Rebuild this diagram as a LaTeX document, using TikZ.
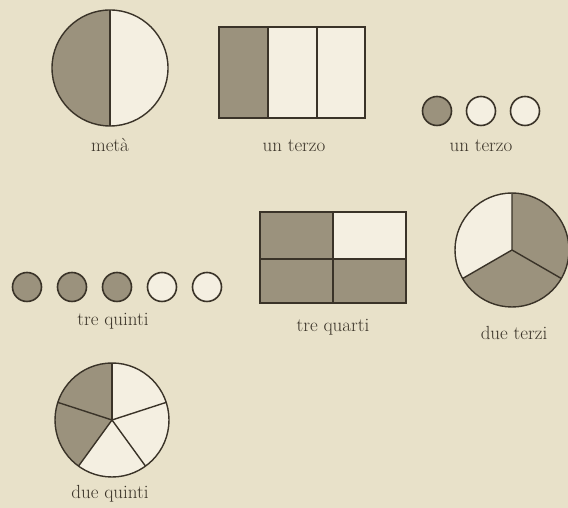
\documentclass[tikz,border=0pt]{standalone}
\usetikzlibrary{calc}
\definecolor{bg}{HTML}{E8E1C9}
\definecolor{darkfill}{HTML}{9B927D}
\definecolor{paper}{HTML}{F4EFE1}
\definecolor{ink}{HTML}{3A3328}
\tikzset{
  outl/.style={draw=ink, line width=1.4pt},
  lbl/.style={anchor=base, text=ink, font=\fontsize{19}{21}\selectfont, inner sep=0pt},
  dot/.style={circle, draw=ink, line width=1.6pt, minimum size=29pt, inner sep=0pt},
}
\begin{document}
\begin{tikzpicture}[x=1pt,y=1pt]
\fill[bg] (0,0) rectangle (568,508);
\useasboundingbox (0,0) rectangle (568,508);
% meta
\coordinate (m) at (110,440);
\fill[paper] (m) circle (58);
\fill[darkfill] (m) ++(0,58) arc[start angle=90,end angle=270,radius=58] -- cycle;
\draw[outl] (m) circle (58);
\draw[outl] ($(m)+(0,58)$) -- ($(m)+(0,-58)$);
\node[lbl] (lmeta) at (110,356) {met\`a};
% un terzo rect
\fill[paper] (219,390) rectangle (365,481);
\fill[darkfill] (219,390) rectangle (268,481);
\draw[outl] (219,390) rectangle (365,481);
\draw[outl] (268,390) -- (268,481) (317,390) -- (317,481);
\node[lbl] (lterzoa) at (294,356) {un terzo};
% un terzo dots
\node[dot, fill=darkfill] (ta) at (437,397) {};
\node[dot, fill=paper] (tb) at (481,397) {};
\node[dot, fill=paper] (tc) at (525,397) {};
\node[lbl] (lterzob) at (481,356) {un terzo};
% tre quinti
\foreach \i/\x/\c in {1/27/darkfill,2/72/darkfill,3/117/darkfill,4/162/paper,5/207/paper}
  \node[dot, fill=\c] (q\i) at (\x,221) {};
\node[lbl] (lquinti) at (113,182) {tre quinti};
% tre quarti
\fill[darkfill] (260,205) rectangle (406,296);
\fill[paper] (333,249) rectangle (406,296);
\draw[outl] (260,205) rectangle (406,296);
\draw[outl] (333,205) -- (333,296) (260,249) -- (406,249);
\node[lbl] (lquarti) at (333,176) {tre quarti};
% due terzi
\coordinate (d) at (512,258);
\fill[paper] (d) circle (57);
\fill[darkfill] (d) -- ++(90:57) arc[start angle=90,end angle=-150,radius=57] -- cycle;
\draw[outl] (d) circle (57);
\draw[outl] (d) -- ++(90:57) (d) -- ++(210:57) (d) -- ++(330:57);
\node[lbl] (lterzi) at (514,168) {due terzi};
% due quinti
\coordinate (p) at (112,88);
\fill[paper] (p) circle (57);
\fill[darkfill] (p) -- ++(90:57) arc[start angle=90,end angle=234,radius=57] -- cycle;
\draw[outl] (p) circle (57);
\foreach \a in {90,18,-54,-126,162} \draw[outl] (p) -- ++(\a:57);
\node[lbl] (ldq) at (110,9) {due quinti};
\end{tikzpicture}
\end{document}
